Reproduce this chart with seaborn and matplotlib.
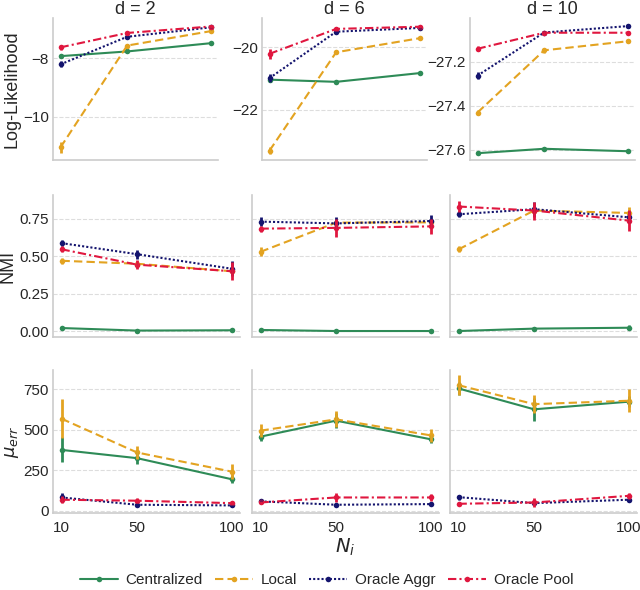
import matplotlib
matplotlib.use("Agg")
import matplotlib.pyplot as plt
import numpy as np
import pandas as pd
import seaborn as sns

# 数据：每个列表按方法排列 (Centralized, Local, Oracle Aggr, Oracle Pool)，列为 N_i = 10, 50, 100
n_values = [10, 50, 100]
methods = ["Centralized", "Local", "Oracle Aggr", "Oracle Pool"]
dims = [2, 6, 10]

ll_d2 = [[-7.93, -7.77, -7.49], [-11.04, -7.57, -7.08], [-8.21, -7.27, -6.95], [-7.63, -7.14, -6.92]]
ll_d2_err = [[0.05, 0.04, 0.05], [0.2, 0.06, 0.05], [0.1, 0.04, 0.03], [0.08, 0.04, 0.04]]
ll_d6 = [[-21.04, -21.11, -20.83], [-23.32, -20.16, -19.71], [-20.99, -19.5, -19.38], [-20.21, -19.41, -19.34]]
ll_d6_err = [[0.05, 0.05, 0.06], [0.12, 0.06, 0.06], [0.13, 0.06, 0.04], [0.16, 0.06, 0.05]]
ll_d10 = [[-27.615, -27.595, -27.606], [-27.43, -27.147, -27.106], [-27.262, -27.066, -27.037], [-27.14, -27.067, -27.067]]
ll_d10_err = [[0.005, 0.006, 0.005], [0.01, 0.01, 0.01], [0.015, 0.008, 0.01], [0.012, 0.01, 0.01]]

nmi_d2 = [[0.02, 0.003, 0.005], [0.47, 0.45, 0.40], [0.588, 0.514, 0.417], [0.547, 0.444, 0.40]]
nmi_d2_err = [[0.01, 0.005, 0.005], [0.02, 0.02, 0.02], [0.02, 0.03, 0.05], [0.02, 0.03, 0.06]]
nmi_d6 = [[0.007, 0.0, 0.0], [0.53, 0.725, 0.727], [0.732, 0.72, 0.736], [0.685, 0.69, 0.70]]
nmi_d6_err = [[0.005, 0.003, 0.003], [0.03, 0.02, 0.02], [0.03, 0.04, 0.04], [0.02, 0.06, 0.05]]
nmi_d10 = [[0.0, 0.016, 0.022], [0.546, 0.806, 0.79], [0.781, 0.815, 0.761], [0.833, 0.806, 0.739]]
nmi_d10_err = [[0.005, 0.008, 0.015], [0.02, 0.03, 0.04], [0.02, 0.05, 0.04], [0.04, 0.06, 0.07]]

mu_d2 = [[376, 325, 195], [569, 360, 242], [82, 37, 33], [68, 62, 47]]
mu_d2_err = [[77, 35, 25], [120, 42, 45], [25, 8, 8], [20, 15, 10]]
mu_d6 = [[458, 557, 442], [495, 565, 466], [58, 37, 41], [51, 82, 82]]
mu_d6_err = [[30, 45, 25], [40, 50, 40], [10, 6, 8], [12, 25, 20]]
mu_d10 = [[756, 627, 674], [776, 659, 680], [84, 47, 68], [43, 51, 92]]
mu_d10_err = [[40, 70, 35], [60, 55, 70], [15, 10, 12], [10, 25, 20]]

rows = [
    ("Log-Likelihood", [(ll_d2, ll_d2_err), (ll_d6, ll_d6_err), (ll_d10, ll_d10_err)]),
    ("NMI", [(nmi_d2, nmi_d2_err), (nmi_d6, nmi_d6_err), (nmi_d10, nmi_d10_err)]),
    (r"$\mu_{err}$", [(mu_d2, mu_d2_err), (mu_d6, mu_d6_err), (mu_d10, mu_d10_err)]),
]

palette = {"Centralized": "#2e8b57", "Local": "#e3a321", "Oracle Aggr": "#14146e", "Oracle Pool": "#e0173f"}
dashes = {"Centralized": "", "Local": (4, 2), "Oracle Aggr": (1, 1), "Oracle Pool": (4, 1.5, 1, 1.5)}
marks = {m: "o" for m in methods}

sns.set_theme(style="whitegrid")
plt.rcParams["font.family"] = ["Liberation Sans", "DejaVu Sans"]
plt.rcParams["axes.unicode_minus"] = True

fig = plt.figure(figsize=(6.4, 5.9), dpi=100)

# 手动布局：第一行每列有自己的 y 轴刻度
top_lefts = [53, 262, 470]
low_lefts = [53, 252, 450]
row_y = [(18, 160), (195, 337), (370, 513)]
ylims = [
    [(-11.47, -6.63), (-23.62, -19.06), (-27.646, -27.0)],
    [(-0.04, 0.91)] * 3,
    [(-14, 870)] * 3,
]
yticks = [
    [[-10, -8], [-22, -20], [-27.6, -27.4, -27.2]],
    [[0, 0.25, 0.5, 0.75]] * 3,
    [[0, 250, 500, 750]] * 3,
]

axes = []
for r, (ylabel, panels) in enumerate(rows):
    lefts = top_lefts if r == 0 else low_lefts
    width = 165 if r == 0 else 187
    y0, y1 = row_y[r]
    row_axes = []
    for c, (vals, errs) in enumerate(panels):
        ax = fig.add_axes([lefts[c] / 640, 1 - y1 / 590, width / 640, (y1 - y0) / 590])
        df = pd.DataFrame({
            "method": np.repeat(methods, len(n_values)),
            "N": n_values * len(methods),
            "value": np.ravel(vals),
            "err": np.ravel(errs),
        })
        sns.lineplot(data=df, x="N", y="value", hue="method", style="method",
                     palette=palette, dashes=dashes, markers=marks, ax=ax,
                     linewidth=1.5, markersize=4, markeredgewidth=0, legend=(r == 0 and c == 0))
        for m in methods:
            sub = df[df["method"] == m]
            ax.errorbar(sub["N"], sub["value"], yerr=sub["err"], fmt="none",
                        ecolor=palette[m], elinewidth=2, capsize=0)
        ax.set_xticks(n_values)
        ax.set_ylim(*ylims[r][c])
        ax.set_yticks(yticks[r][c])
        ax.grid(False)
        ax.grid(axis="y", linestyle="--", color="#dddddd", linewidth=0.8)
        for s in ["top", "right"]:
            ax.spines[s].set_visible(False)
        for s in ["left", "bottom"]:
            ax.spines[s].set_color("#cccccc")
            ax.spines[s].set_linewidth(1.2)
        ax.tick_params(labelsize=11, length=0, pad=3)
        ax.tick_params(axis="x", pad=6)
        ax.set_xlabel("")
        ax.set_ylabel(ylabel if c == 0 else "", fontsize=13, labelpad=2)
        if r < 2:
            ax.set_xticklabels([])
        if r > 0 and c > 0:
            ax.set_yticklabels([])
        if r == 0:
            ax.set_title(f"d = {dims[c]}", fontsize=13, pad=2)
        if r == 0 and c == 2:
            ax.yaxis.set_major_formatter(
                matplotlib.ticker.FuncFormatter(lambda v, p: f"{v:.1f}".replace("-", "\u2212")))
        row_axes.append(ax)
    axes.append(row_axes)

axes[2][1].set_xlabel("$N_i$", fontsize=14, labelpad=1)

handles, labels = axes[0][0].get_legend_handles_labels()
axes[0][0].get_legend().remove()
fig.legend(handles, labels, loc="lower center", ncol=4, frameon=False,
           fontsize=11, bbox_to_anchor=(0.51, -0.018), columnspacing=0.8,
           handlelength=2.5, handletextpad=0.5)

fig.savefig("out.png", dpi=100)
